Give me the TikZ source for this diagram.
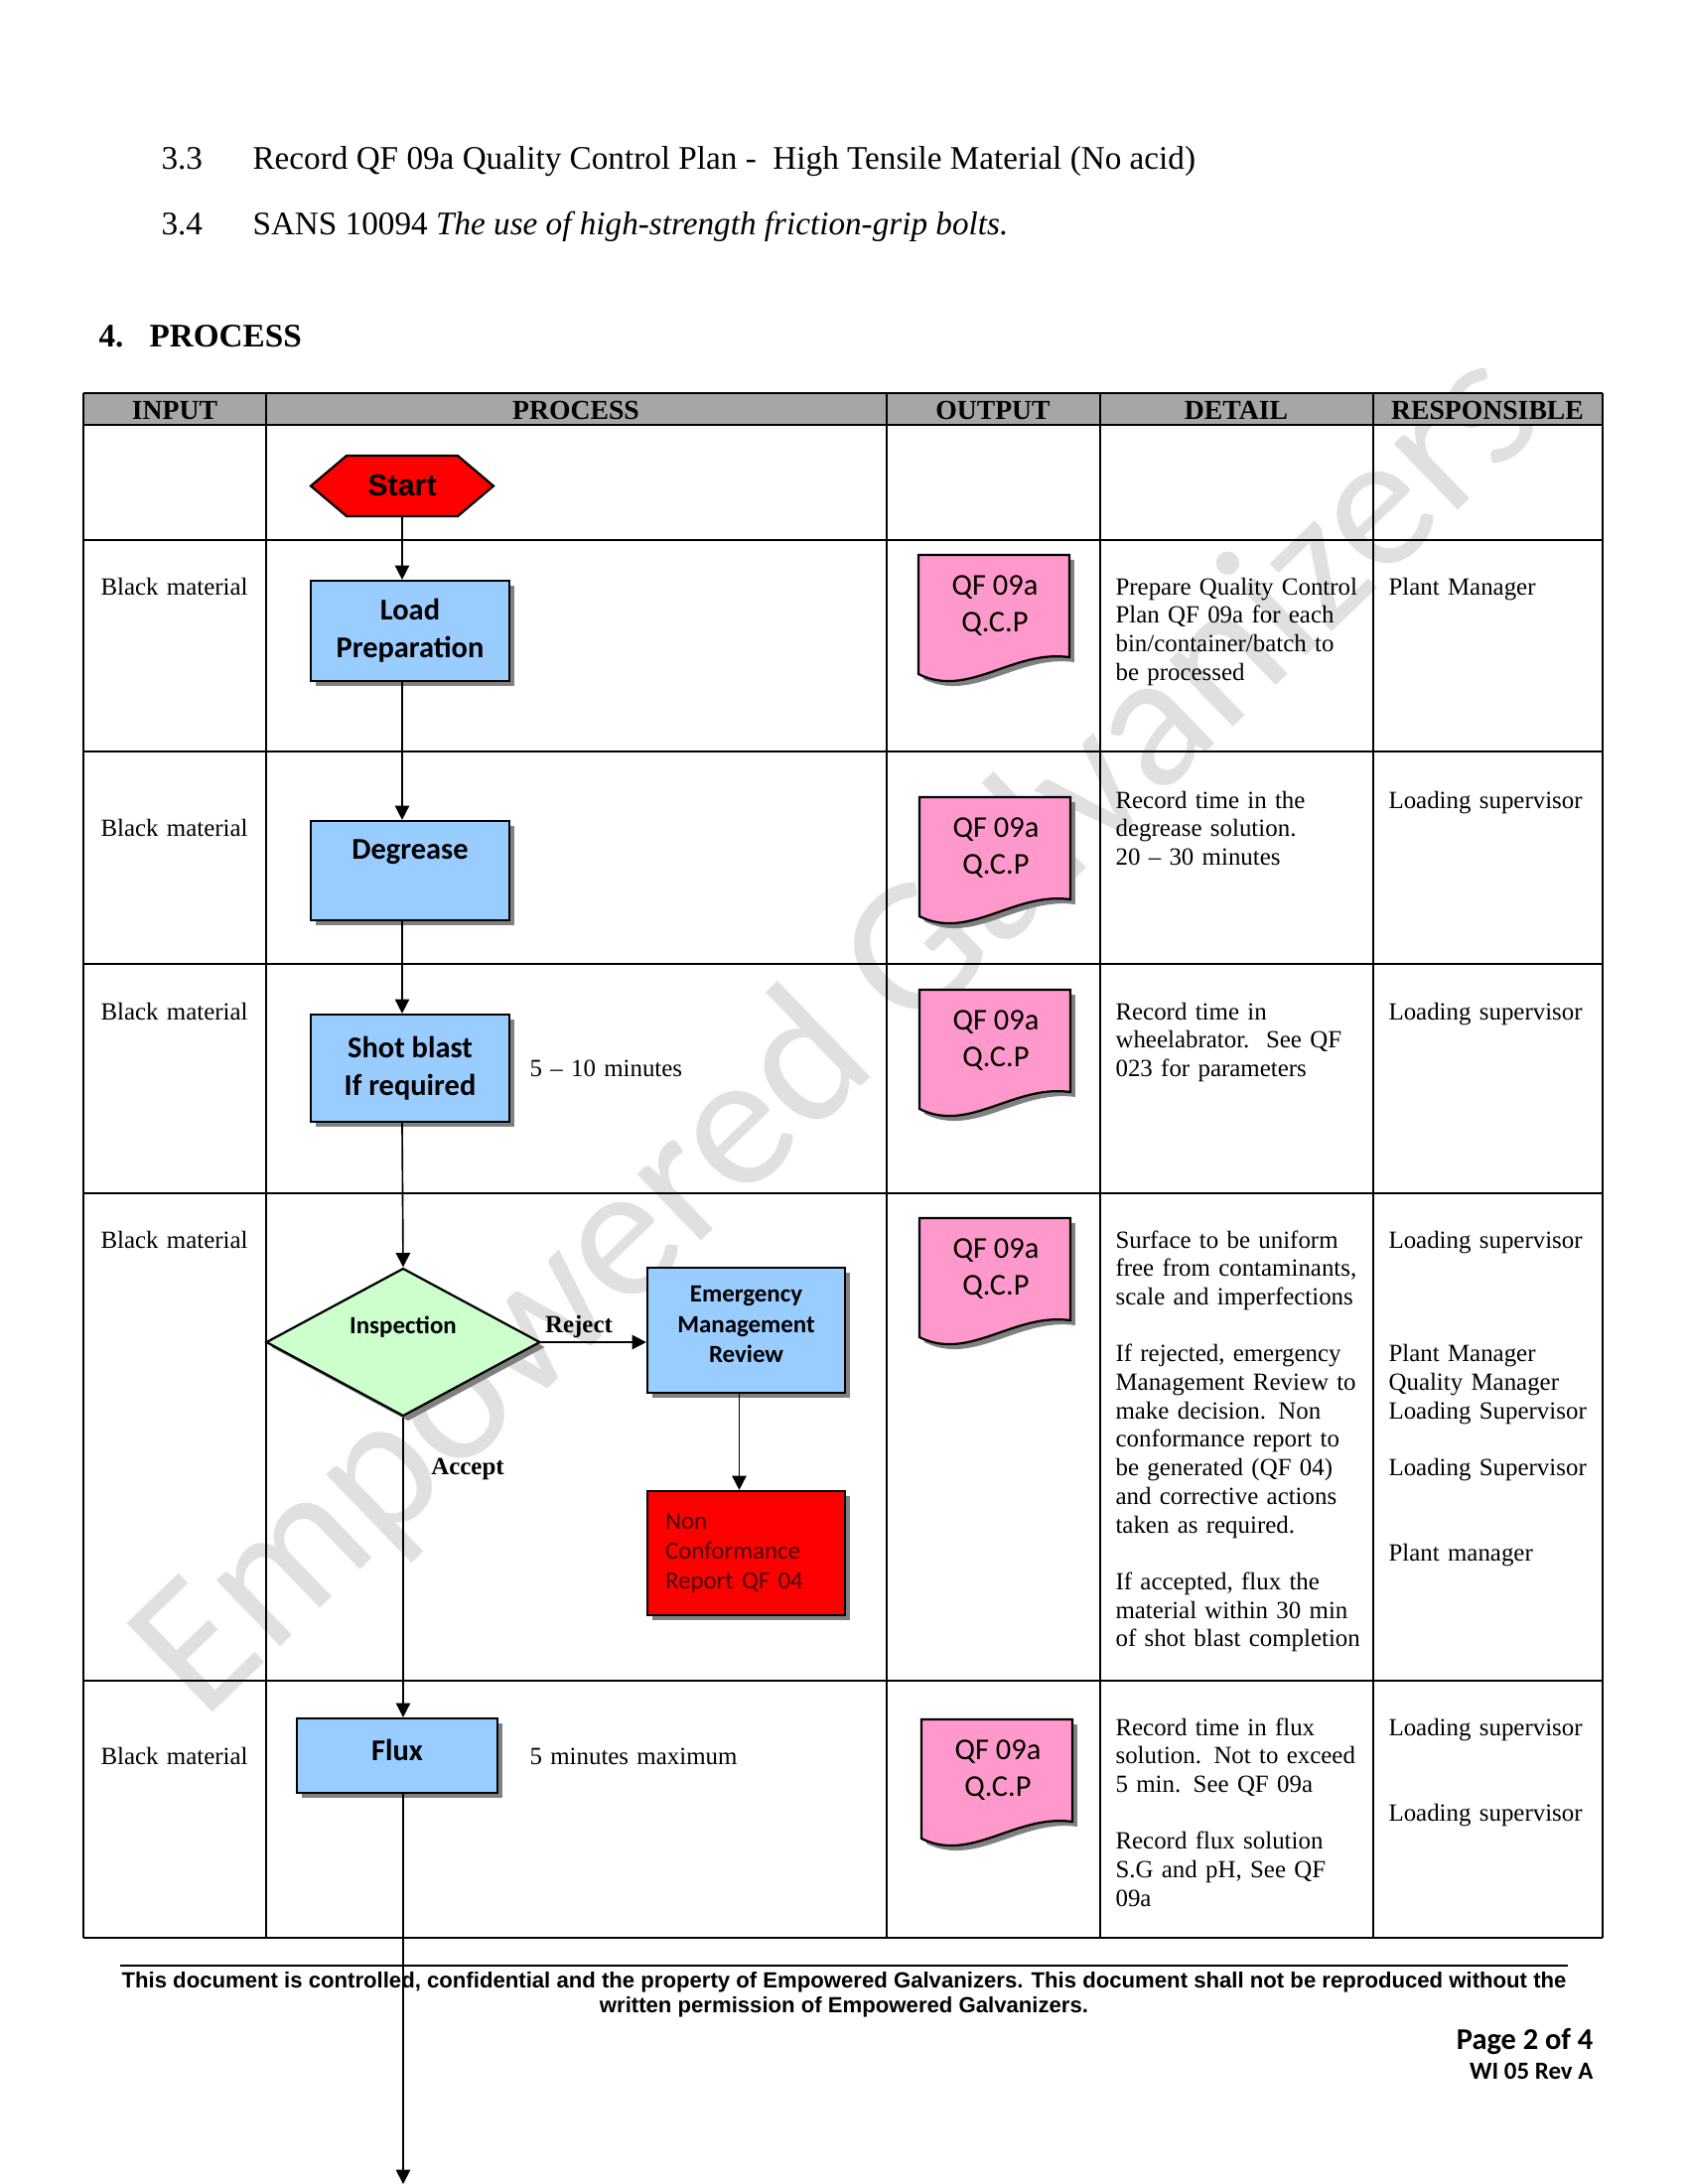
\documentclass[tikz,border=0pt]{standalone}
\usepackage{fontspec}
\setmainfont{Liberation Serif}
\newfontfamily\calibri{Carlito}
\newfontfamily\arialf{Liberation Sans}
\usetikzlibrary{arrows.meta,shapes.symbols,shapes.geometric,shadows}
\definecolor{boxBlue}{RGB}{153,204,255}
\definecolor{docPink}{RGB}{255,153,204}
\definecolor{decGreen}{RGB}{204,255,204}
\definecolor{headGray}{RGB}{166,166,166}
\definecolor{markGray}{RGB}{224,224,224}
\definecolor{ncrText}{RGB}{70,0,0}
\newcommand{\pxl}{0.36135pt}
\newcommand{\cellfont}{\fontsize{9}{10.37}\selectfont}
\tikzset{
    tabline/.style={line width=0.5pt},
    flowline/.style={line width=0.6pt, -{Triangle[length=5.2pt, width=5.2pt]}},
    boxshadow/.style={drop shadow={shadow xshift=1.8pt, shadow yshift=-1.8pt, fill=black!50, opacity=1}},
    procbox/.style={draw, line width=0.8pt, fill=boxBlue, boxshadow, inner sep=0pt, align=center,
        minimum width=200*\pxl, font=\calibri\bfseries\fontsize{11}{13.7}\selectfont},
    boxlbl/.style={inner sep=0pt, align=center, font=\calibri\bfseries\fontsize{11}{13.7}\selectfont},
    celltxt/.style={anchor=base west, inner sep=0pt, align=left, text width=270*\pxl, font=\cellfont},
    headtxt/.style={anchor=base, inner sep=0pt, font=\fontsize{10}{12}\selectfont\bfseries},
    flowlbl/.style={anchor=base, inner sep=0pt, font=\fontsize{9}{11}\selectfont\bfseries},
    doctxt/.style={inner sep=0pt, align=center, font=\calibri\fontsize{11}{13.4}\selectfont},
    docshape/.style={draw, line width=0.8pt, fill=docPink, boxshadow}
}
% QCP document symbol: name, top left x, top left y
\newcommand{\qcpdoc}[3]{%
    \begin{scope}[shift={(#2,#3)}]
        \draw[docshape] (0,0) -- (152,0) -- (152,103) .. controls (95,95) and (50,145) .. (0,120) -- cycle;
        \node[doctxt] (#1) at (77,51) {QF 09a\\Q.C.P};
    \end{scope}}

\begin{document}
\begin{tikzpicture}[x=\pxl, y=-\pxl]
    \useasboundingbox (0,0) rectangle (1700,2200);
    \fill[white] (0,0) rectangle (1700,2200);

    % watermark
    \node[rotate=44, text=markGray, font=\calibri\fontsize{70}{74}\selectfont] (wmark) at (846,1043) {Empowered Galvanizers};

    % heading text
    \node[anchor=base west, inner sep=0pt, font=\fontsize{12}{14}\selectfont] (n33) at (162,170) {3.3};
    \node[anchor=base west, inner sep=0pt, font=\fontsize{12}{14}\selectfont] (t33) at (254,170) {Record QF 09a Quality Control Plan -\ \ High Tensile Material (No acid)};
    \node[anchor=base west, inner sep=0pt, font=\fontsize{12}{14}\selectfont] (n34) at (162,236) {3.4};
    \node[anchor=base west, inner sep=0pt, font=\fontsize{12}{14}\selectfont] (t34) at (254,236) {SANS 10094 \textit{The use of high-strength friction-grip bolts.}};
    \node[anchor=base west, inner sep=0pt, font=\fontsize{12}{14}\selectfont\bfseries] (n4) at (99,349) {4.};
    \node[anchor=base west, inner sep=0pt, font=\fontsize{12}{14}\selectfont\bfseries] (t4) at (150,349) {PROCESS};

    % table
    \fill[headGray] (84,396) rectangle (1614,428);
    \foreach \yy in {396,428,544,757,971,1202,1693,1952}
        \draw[tabline] (84,\yy) -- (1614,\yy);
    \foreach \xx in {84,268,893,1108,1383,1614}
        \draw[tabline] (\xx,396) -- (\xx,1952);
    \foreach \cx/\hd in {176/INPUT, 580/PROCESS, 1000/OUTPUT, 1245/DETAIL, 1498/RESPONSIBLE}
        \node[headtxt] at (\cx,422) {\hd};

    % input column
    \node[celltxt] (in1) at (101,599) {Black material};
    \node[celltxt] (in2) at (101,842) {Black material};
    \node[celltxt] (in3) at (101,1027) {Black material};
    \node[celltxt] (in4) at (101,1257) {Black material};
    \node[celltxt] (in5) at (101,1777) {Black material};

    % process column
    \node[signal, signal to=west and east, signal pointer angle=80.5, draw, line width=0.8pt, fill=red,
        minimum width=184*\pxl, minimum height=61*\pxl, inner sep=0pt,
        font=\arialf\bfseries\fontsize{11}{13}\selectfont] (start) at (405,489.5) {Start};
    \node[procbox, minimum height=101*\pxl] (load) at (413,635.5) {Load\\Preparation};
    \node[procbox, minimum height=100*\pxl, label={[boxlbl, yshift=19*\pxl]center:Degrease}] (degr) at (413,877) {};
    \node[procbox, minimum height=108*\pxl] (shot) at (413,1076) {Shot blast\\If required};
    \node[diamond, draw, line width=0.8pt, fill=decGreen, boxshadow, inner sep=0pt,
        minimum width=276*\pxl, minimum height=149*\pxl,
        label={[boxlbl, font=\calibri\bfseries\fontsize{9}{11}\selectfont, yshift=15*\pxl]center:Inspection}] (insp) at (406,1352) {};
    \node[procbox, minimum width=199*\pxl, minimum height=126*\pxl,
        label={[boxlbl, font=\calibri\bfseries\fontsize{9}{11}\selectfont, yshift=6*\pxl]center:Emergency\\Management\\Review}] (emr) at (751.5,1340) {};
    \node[procbox, fill=red, minimum width=199*\pxl, minimum height=125*\pxl, text width=163*\pxl,
        inner xsep=18*\pxl, align=left, text=ncrText,
        font=\calibri\fontsize{9}{11}\selectfont] (ncr) at (751.5,1564.5) {Non\\Conformance\\Report QF 04};
    \node[procbox, minimum width=202*\pxl, minimum height=75*\pxl, label={[boxlbl, yshift=6*\pxl]center:Flux}] (flux) at (400,1768.5) {};
    \coordinate (pgend) at (406,2200);

    \draw[flowline] (start.south) -- (start |- load.north);
    \draw[flowline] (start |- load.south) -- (start |- degr.north);
    \draw[flowline] (start |- degr.south) -- (start |- shot.north);
    \draw[flowline] (start |- shot.south) -- (insp.north);
    \draw[flowline] (insp.east) -- (emr.west |- insp.east);
    \draw[flowline] ([xshift=-7*\pxl]emr.south) -- ([xshift=-7*\pxl]ncr.north);
    \draw[flowline] (insp.south) -- (insp.south |- flux.north);
    \draw[flowline] (insp.south |- flux.south) -- (pgend);

    \node[flowlbl] (rej) at (583,1342) {Reject};
    \node[flowlbl] (acc) at (471,1485) {Accept};
    \node[celltxt] (t3) at (533,1084) {5 -- 10 minutes};
    \node[celltxt] (t5) at (533,1777) {5 minutes maximum};

    % output column
    \qcpdoc{doc1}{925}{559}
    \qcpdoc{doc2}{926}{803}
    \qcpdoc{doc3}{926}{997}
    \qcpdoc{doc4}{926}{1227}
    \qcpdoc{doc5}{928}{1732}

    % detail column
    \node[celltxt] (det1) at (1123,599) {Prepare Quality Control\\Plan QF 09a for each\\bin/container/batch to\\be processed};
    \node[celltxt] (det2) at (1123,814) {Record time in the\\degrease solution.\\20 -- 30 minutes};
    \node[celltxt] (det3) at (1123,1027) {Record time in\\wheelabrator.\ \ See QF\\023 for parameters};
    \node[celltxt] (det4) at (1123,1257) {Surface to be uniform\\free from contaminants,\\scale and imperfections\\[10.37pt]If rejected, emergency\\Management Review to\\make decision. Non\\conformance report to\\be generated (QF 04)\\and corrective actions\\taken as required.\\[10.37pt]If accepted, flux the\\material within 30 min\\of shot blast completion};
    \node[celltxt] (det5) at (1123,1748) {Record time in flux\\solution. Not to exceed\\5 min. See QF 09a\\[10.37pt]Record flux solution\\S.G and pH, See QF\\09a};

    % responsible column
    \node[celltxt] (res1) at (1398,599) {Plant Manager};
    \node[celltxt] (res2) at (1398,814) {Loading supervisor};
    \node[celltxt] (res3) at (1398,1027) {Loading supervisor};
    \node[celltxt] (res4) at (1398,1257) {Loading supervisor\\[31.11pt]Plant Manager\\Quality Manager\\Loading Supervisor\\[10.37pt]Loading Supervisor\\[20.74pt]Plant manager};
    \node[celltxt] (res5) at (1398,1748) {Loading supervisor\\[20.74pt]Loading supervisor};

    % footer
    \draw[line width=0.7pt] (121,1980) -- (1579,1980);
    \node[anchor=base, inner sep=0pt, font=\arialf\bfseries\fontsize{8}{10}\selectfont] (foot1) at (850,2002) {This document is controlled, confidential and the property of Empowered Galvanizers. This document shall not be reproduced without the};
    \node[anchor=base, inner sep=0pt, font=\arialf\bfseries\fontsize{8}{10}\selectfont] (foot2) at (850,2027) {written permission of Empowered Galvanizers.};
    \node[anchor=base east, inner sep=0pt, font=\calibri\bfseries\fontsize{11}{13}\selectfont] (pg) at (1605,2064) {Page 2 of 4};
    \node[anchor=base east, inner sep=0pt, font=\calibri\bfseries\fontsize{9}{11}\selectfont] (rev) at (1605,2094) {WI 05 Rev A};

\end{tikzpicture}
\end{document}
